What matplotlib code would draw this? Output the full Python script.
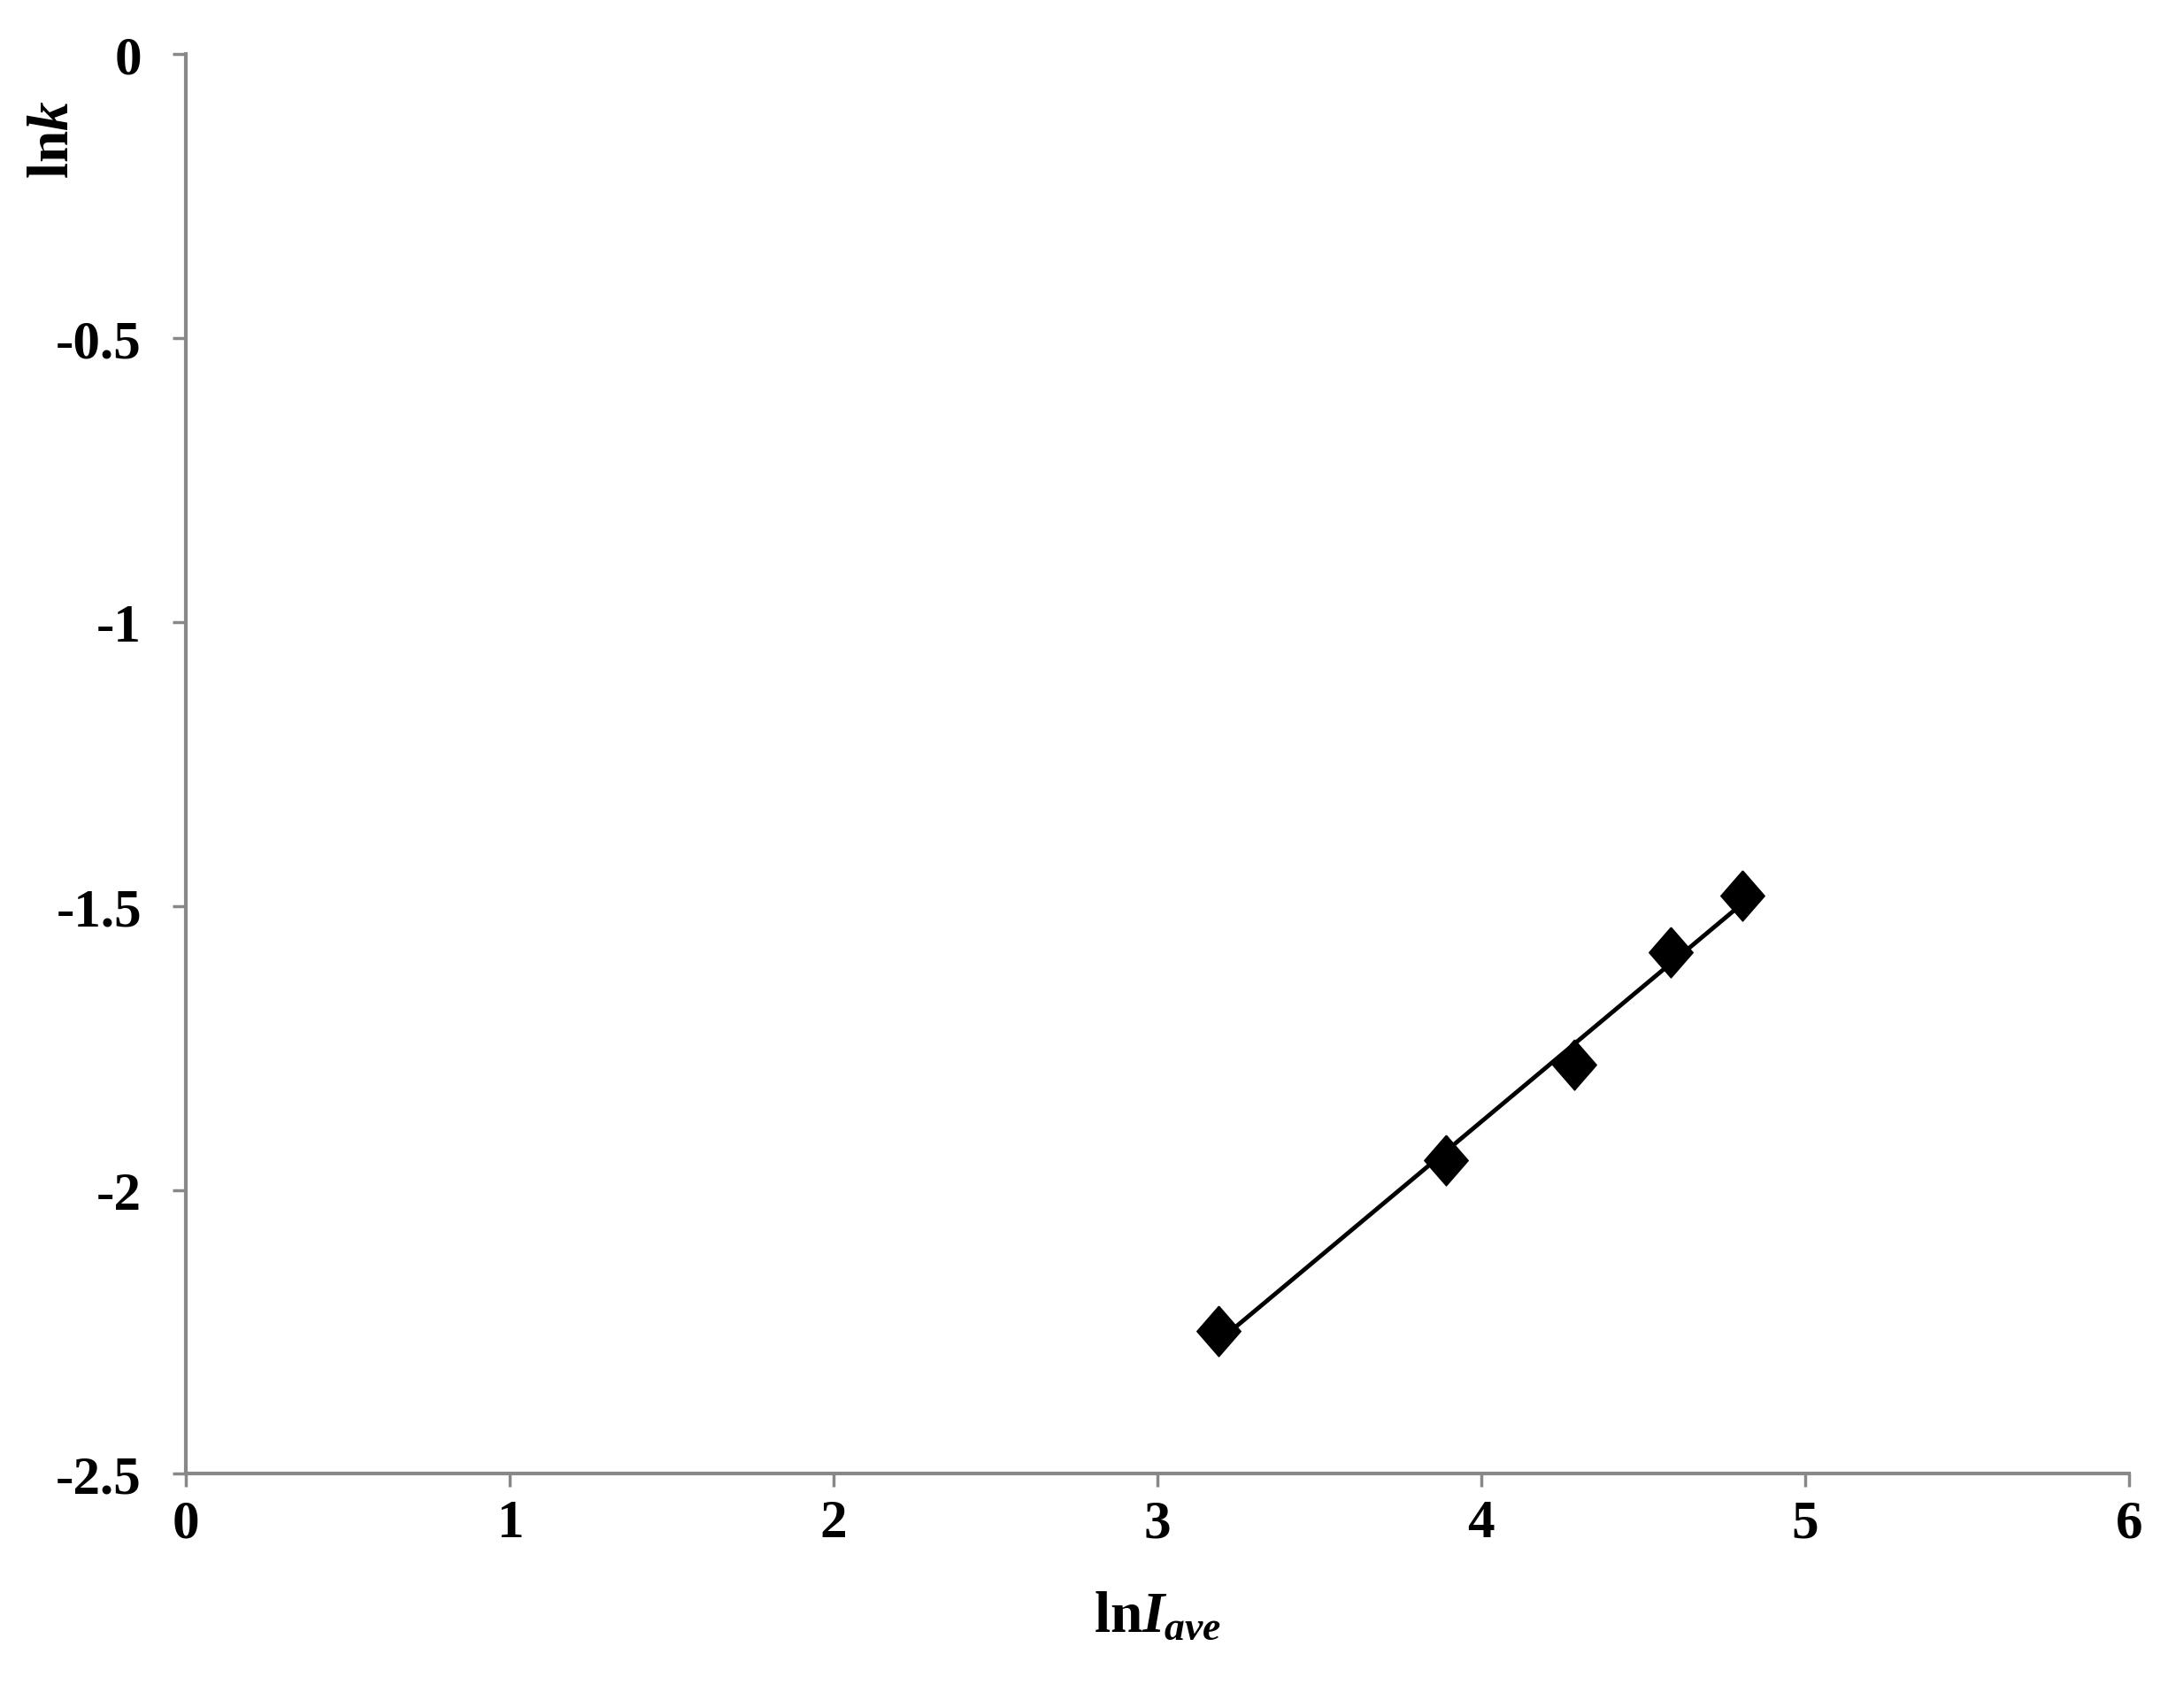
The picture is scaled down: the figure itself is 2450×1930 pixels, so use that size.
import numpy as np
import matplotlib
matplotlib.use('Agg')
import matplotlib.pyplot as plt

plt.rcParams['font.family'] = 'Liberation Serif'
plt.rcParams['font.weight'] = 'bold'
plt.rcParams['axes.labelweight'] = 'bold'
plt.rcParams['mathtext.fontset'] = 'custom'
plt.rcParams['mathtext.rm'] = 'Liberation Serif:bold'
plt.rcParams['mathtext.it'] = 'Liberation Serif:italic:bold'

# data
lnI = [3.19, 3.89, 4.286, 4.585, 4.807]
lnk = [-2.249, -1.947, -1.779, -1.582, -1.482]

xticks = [0, 1, 2, 3, 4, 5, 6]
yticks = [0, -0.5, -1, -1.5, -2, -2.5]

# linear trendline through the points
a, b = np.polyfit(lnI, lnk, 1)
xfit = np.array([min(lnI), max(lnI)])

fig = plt.figure(figsize=(24.5, 19.31), dpi=100)
ax = fig.add_axes([0.0857, 0.137, 0.8963, 0.831])

ax.plot(xfit, a*xfit + b, color='black', lw=3.5, zorder=2)
diamond = [(0, 1), (0.87, 0), (0, -1), (-0.87, 0), (0, 1)]
ax.plot(lnI, lnk, linestyle='none', marker=diamond, ms=41,
        color='black', zorder=3)

ax.set_xlim(0, 6)
ax.set_ylim(-2.5, 0)
ax.set_xticks(xticks)
ax.set_yticks(yticks)
ax.set_xticklabels([str(t) for t in xticks])
ax.set_yticklabels(['0', '-0.5', '-1', '-1.5', '-2', '-2.5'])

for s in ['top', 'right']:
    ax.spines[s].set_visible(False)
for s in ['left', 'bottom']:
    ax.spines[s].set_color('#888888')
    ax.spines[s].set_linewidth(3)

ax.tick_params(axis='both', direction='out', length=11, width=2.5,
               color='#888888', labelsize=44)
ax.tick_params(axis='x', pad=9)
ax.tick_params(axis='y', pad=25)

ax.set_xlabel(r'ln$I_{ave}$', fontsize=47, fontweight='bold')
ax.set_ylabel(r'ln$k$', fontsize=47, fontweight='bold')
ax.xaxis.set_label_coords(0.5, -0.082)
ax.yaxis.set_label_coords(-0.054, 0.94)

plt.savefig('out.png', dpi=100)
